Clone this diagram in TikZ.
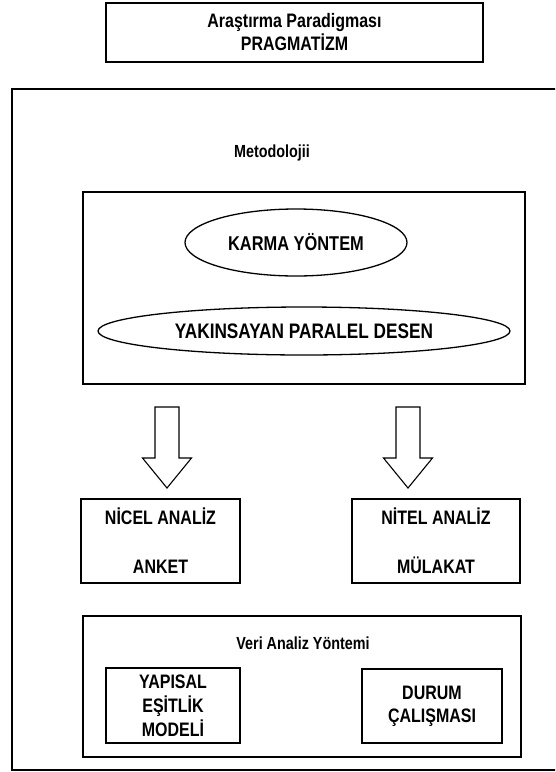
\documentclass[tikz,border=0pt]{standalone}
\usepackage{fontspec}
\setmainfont{Liberation Sans}[FakeStretch=0.82]
\usetikzlibrary{shapes.geometric}
\begin{document}
\begin{tikzpicture}[x=1pt,y=-1pt,
  line width=1.5pt,
  txt/.style={font=\fontsize{19.5}{23}\selectfont\bfseries, align=center, inner sep=0pt},
  smalltxt/.style={font=\fontsize{17.5}{21}\selectfont\bfseries, align=center, inner sep=0pt},
  box/.style={draw, rectangle, txt},
  oval/.style={draw, ellipse, txt, line width=1.3pt},
  blockarrow/.style={draw, line width=1.1pt, fill=white, line join=miter}]
  \clip (0,0) rectangle (555,772);
  \fill[white] (0,0) rectangle (555,772);

  % paradigm header
  \node[box, minimum width=377pt, minimum height=59pt] (par) at (294.5,32.5)
    {Araştırma Paradigması\\PRAGMATİZM};

  % frame around the whole research design (open to the right)
  \node[draw, rectangle, minimum width=580pt, minimum height=681pt, anchor=north west] (frame) at (11,88) {};
  \node[smalltxt] (metlbl) at (272,153) {Metodolojii};

  % methodology block
  \node[draw, rectangle, minimum width=442pt, minimum height=192pt] (met) at (304,288) {};
  \node[oval, minimum width=222pt, minimum height=67pt, font=\fontsize{20}{24}\selectfont\bfseries] (karma) at (296,242.5) {KARMA YÖNTEM};
  \node[oval, minimum width=412pt, minimum height=48pt, font=\fontsize{21}{25}\selectfont\bfseries] (desen) at (304,331) {YAKINSAYAN PARALEL DESEN};

  % quantitative / qualitative strands
  \node[box, minimum width=159pt, minimum height=84pt] (nicel) at (160.5,541)
    {NİCEL ANALİZ\\[26pt]ANKET};
  \node[box, minimum width=168pt, minimum height=84pt] (nitel) at (436,541)
    {NİTEL ANALİZ\\[26pt]MÜLAKAT};

  % hollow block arrows from the design to each strand
  \coordinate (la) at (167,407);
  \coordinate (ra) at (408,407);
  \draw[blockarrow] (la) ++(-12,0) -- ++(0,51) -- ++(-12.5,0) -- ++(24.5,30)
    -- ++(24.5,-30) -- ++(-12.5,0) -- ++(0,-51) -- cycle;
  \draw[blockarrow] (ra) ++(-12,0) -- ++(0,51) -- ++(-12.5,0) -- ++(24.5,30)
    -- ++(24.5,-30) -- ++(-12.5,0) -- ++(0,-51) -- cycle;

  % data analysis block
  \node[draw, rectangle, minimum width=438pt, minimum height=141pt] (veri) at (302,686.5) {};
  \node[smalltxt] (verilbl) at (303,643) {Veri Analiz Yöntemi};
  \node[box, minimum width=134pt, minimum height=75pt, font=\fontsize{19.5}{24}\selectfont\bfseries] (yem) at (173,705.5)
    {YAPISAL\\EŞİTLİK\\MODELİ};
  \node[box, minimum width=140pt, minimum height=74pt] (durum) at (432,706)
    {DURUM\\ÇALIŞMASI};
\end{tikzpicture}
\end{document}
